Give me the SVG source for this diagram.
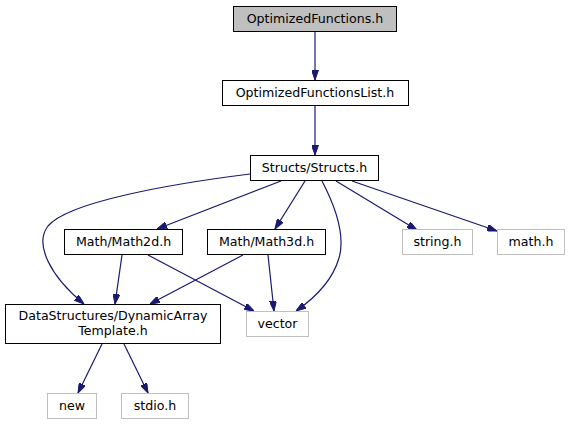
<svg xmlns="http://www.w3.org/2000/svg" width="570" height="425" viewBox="0 0 570 425">
<style>
.n rect{fill:#fff;stroke:#000;stroke-width:1}
.g rect{fill:#fff;stroke:#bfbfbf;stroke-width:1}
text{font-family:"DejaVu Sans",sans-serif;font-size:12.6px;text-anchor:middle;fill:#000}
.e path{fill:none;stroke:#191970;stroke-width:1.2}
</style>
<defs>
<marker id="a" viewBox="0 0 10 7" refX="10" refY="3.5" markerWidth="10" markerHeight="7" markerUnits="userSpaceOnUse" orient="auto">
<path d="M0,0 L10,3.5 L0,7 z" fill="#191970" stroke="#191970"/>
</marker>
</defs>
<g class="e" marker-end="url(#a)">
<path d="M315,31 L315,80" marker-end="url(#a)"/>
<path d="M315,106 L315,155" marker-end="url(#a)"/>
<path d="M281,181 L157,229" marker-end="url(#a)"/>
<path d="M305,181 L275,229" marker-end="url(#a)"/>
<path d="M250,174 C170,184 68,202 48,226 C34,244 50,276 84,304" marker-end="url(#a)"/>
<path d="M322,181 C334,204 346,234 339,258 C332,282 312,300 296,311" marker-end="url(#a)"/>
<path d="M336,181 L417,230" marker-end="url(#a)"/>
<path d="M352,181 L497,231" marker-end="url(#a)"/>
<path d="M122,255 L115,304" marker-end="url(#a)"/>
<path d="M148,255 L254,311" marker-end="url(#a)"/>
<path d="M243,255 L150,304" marker-end="url(#a)"/>
<path d="M268,255 L274,311" marker-end="url(#a)"/>
<path d="M102,344 L78,393" marker-end="url(#a)"/>
<path d="M124,344 L148,393" marker-end="url(#a)"/>
</g>
<g id="n_of" class="n"><rect x="233.5" y="6.5" width="163" height="25" style="fill:#bfbfbf"/><text x="315" y="23">OptimizedFunctions.h</text></g>
<g id="n_ofl" class="n"><rect x="222.5" y="80.5" width="186" height="25"/><text x="315" y="97">OptimizedFunctionsList.h</text></g>
<g id="n_structs" class="n"><rect x="250.5" y="155.5" width="128" height="25"/><text x="314.5" y="172">Structs/Structs.h</text></g>
<g id="n_math2d" class="n"><rect x="64.5" y="229.5" width="118" height="25"/><text x="123.5" y="246">Math/Math2d.h</text></g>
<g id="n_math3d" class="n"><rect x="207.5" y="229.5" width="118" height="25"/><text x="266.5" y="246">Math/Math3d.h</text></g>
<g id="n_string" class="g"><rect x="402.5" y="229.5" width="70" height="25"/><text x="437.5" y="246">string.h</text></g>
<g id="n_math" class="g"><rect x="497.5" y="229.5" width="67" height="25"/><text x="531" y="246">math.h</text></g>
<g id="n_dyn" class="n"><rect x="5.5" y="304.5" width="215" height="39"/><text x="113" y="320">DataStructures/DynamicArray</text><text x="113" y="335">Template.h</text></g>
<g id="n_vector" class="g"><rect x="246.5" y="311.5" width="62" height="25"/><text x="277.5" y="328">vector</text></g>
<g id="n_new" class="g"><rect x="47.5" y="393.5" width="49" height="25"/><text x="72" y="410">new</text></g>
<g id="n_stdio" class="g"><rect x="121.5" y="393.5" width="67" height="25"/><text x="155" y="410">stdio.h</text></g>
</svg>
